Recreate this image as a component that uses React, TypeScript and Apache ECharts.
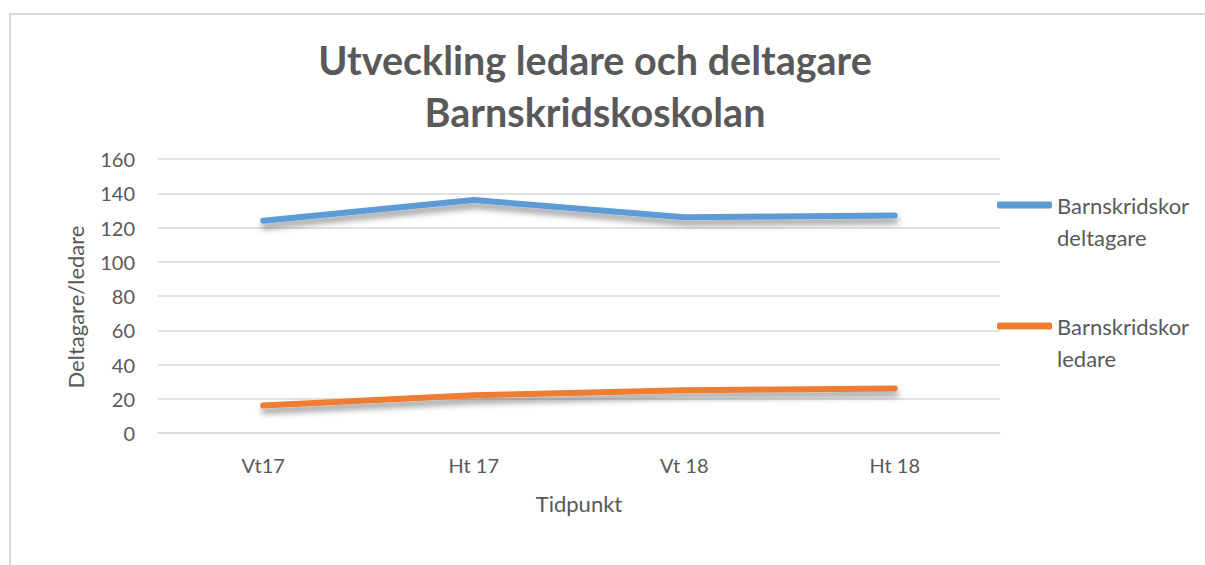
import React, { useEffect, useRef } from "react";
import * as echarts from "echarts";

const categories = ["Vt17", "Ht 17", "Vt 18", "Ht 18"];
const deltagare = [124, 136, 126, 127];
const ledare = [16, 22, 25, 26];
const seriesNames = ["Barnskridskor deltagare", "Barnskridskor ledare"];
const legendLabels = ["Barnskridskor\ndeltagare", "Barnskridskor\nledare"];
const titleText = "Utveckling ledare och deltagare\nBarnskridskoskolan";

const FONT = "Lato";
const TXT = "#595959";

export default function App() {
  const ref = useRef<HTMLDivElement>(null);
  useEffect(() => {
    if (!ref.current) return;
    const chart = echarts.init(ref.current, undefined, { renderer: "svg" });
    const shadow = {
      shadowColor: "rgba(0,0,0,0.42)",
      shadowBlur: 6,
      shadowOffsetY: 5,
      shadowOffsetX: 1,
    };
    const legendText = {
      color: TXT,
      fontFamily: FONT,
      fontSize: 22,
      lineHeight: 32,
    };
    chart.setOption({
      animation: false,
      backgroundColor: "#ffffff",
      textStyle: { fontFamily: FONT },
      title: {
        text: titleText,
        left: 590,
        top: 28,
        textAlign: "center",
        textStyle: {
          color: TXT,
          fontFamily: FONT,
          fontWeight: "bold",
          fontSize: 39.5,
          lineHeight: 52,
        },
      },
      graphic: [
        {
          type: "rect",
          shape: { x: 10, y: 14, width: 1200, height: 560 },
          style: { fill: "none", stroke: "#d9d9d9", lineWidth: 2 },
          silent: true,
        },
      ],
      legend: [
        {
          data: [seriesNames[0]],
          orient: "vertical",
          left: 997,
          top: 157,
          padding: 0,
          itemWidth: 55,
          itemHeight: 7,
          icon: "roundRect",
          formatter: () => "\n" + legendLabels[0],
          textStyle: legendText,
        },
        {
          data: [seriesNames[1]],
          orient: "vertical",
          left: 997,
          top: 278,
          padding: 0,
          itemWidth: 55,
          itemHeight: 7,
          icon: "roundRect",
          formatter: () => "\n" + legendLabels[1],
          textStyle: legendText,
        },
      ],
      grid: { left: 158, right: 205, top: 159, bottom: 132 },
      xAxis: {
        type: "category",
        data: categories,
        boundaryGap: true,
        axisLine: { show: true, lineStyle: { color: "#d9d9d9", width: 1.5 } },
        axisTick: { show: false },
        axisLabel: { color: TXT, fontFamily: FONT, fontSize: 20, margin: 22 },
        name: "Tidpunkt",
        nameLocation: "middle",
        nameGap: 59,
        nameTextStyle: { color: TXT, fontFamily: FONT, fontSize: 22 },
      },
      yAxis: {
        type: "value",
        min: 0,
        max: 160,
        interval: 20,
        axisLine: { show: false },
        axisTick: { show: false },
        splitLine: { lineStyle: { color: "#d9d9d9", width: 1.5 } },
        axisLabel: { color: TXT, fontFamily: FONT, fontSize: 20, margin: 23 },
        name: "Deltagare/ledare",
        nameLocation: "middle",
        nameGap: 72,
        nameTextStyle: {
          color: TXT,
          fontFamily: FONT,
          fontSize: 22,
          padding: [0, 22, 0, 0],
        },
      },
      series: [
        {
          name: seriesNames[0],
          type: "line",
          data: deltagare,
          symbol: "none",
          color: "#5B9BD5",
          lineStyle: { width: 6, color: "#5B9BD5", cap: "round", join: "round", ...shadow },
        },
        {
          name: seriesNames[1],
          type: "line",
          data: ledare,
          symbol: "none",
          color: "#ED7D31",
          lineStyle: { width: 6, color: "#ED7D31", cap: "round", join: "round", ...shadow },
        },
      ],
    });
    return () => chart.dispose();
  }, []);
  return (
    <div
      ref={ref}
      style={{ position: "fixed", left: 0, top: 0, width: 1205, height: 565 }}
    />
  );
}
